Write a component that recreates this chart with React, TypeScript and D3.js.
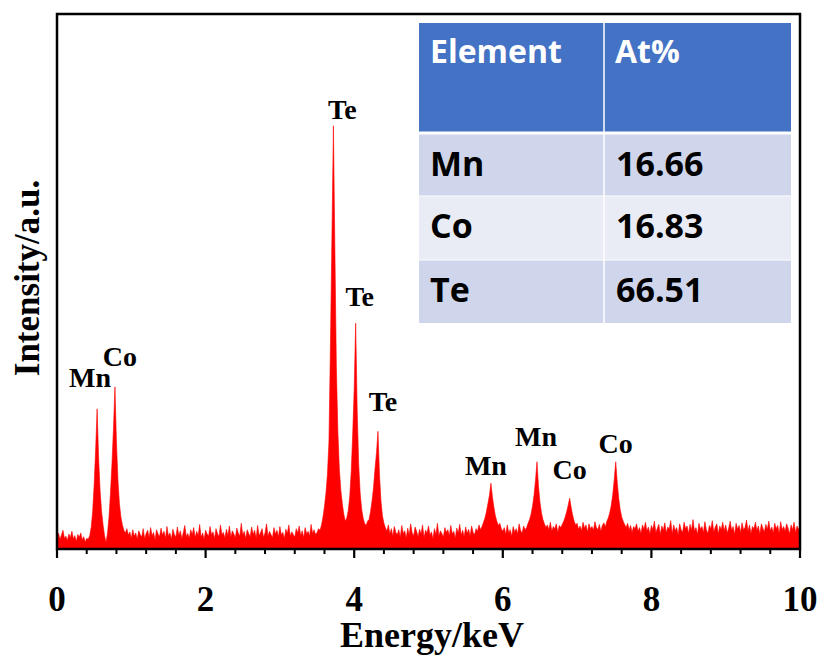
import React from "react";
import * as d3 from "d3";

// EDS spectrum: counts sampled every 0.02 keV from 0 to 10 keV
const ENERGY_STEP = 0.02;
const counts: number[] = [
  22, 30, 18, 26, 35, 20, 24, 16, 28, 21, // 0.00
  33, 19, 25, 14, 27, 22, 30, 17, 23, 13, // 0.20
  20, 18, 25, 40, 70, 120, 185, 262, 170, 110, // 0.40  Mn L
  70, 45, 25, 12, 30, 60, 105, 160, 225, 303, // 0.60  Co L
  200, 130, 85, 60, 45, 35, 30, 38, 26, 32, // 0.80
  20, 36, 24, 30, 18, 34, 27, 22, 38, 19, // 1.00
  29, 35, 21, 40, 25, 31, 17, 36, 28, 23, // 1.20
  39, 26, 33, 20, 42, 24, 30, 18, 37, 27, // 1.40
  22, 41, 25, 34, 19, 31, 44, 23, 29, 20, // 1.60
  36, 27, 40, 21, 33, 25, 46, 22, 30, 18, // 1.80
  35, 28, 24, 42, 26, 32, 19, 38, 29, 23, // 2.00
  45, 27, 31, 20, 37, 25, 43, 22, 34, 28, // 2.20
  21, 39, 30, 24, 48, 26, 33, 19, 36, 29, // 2.40
  23, 41, 27, 35, 20, 44, 25, 31, 38, 22, // 2.60
  30, 47, 24, 33, 27, 21, 40, 28, 35, 23, // 2.80
  42, 26, 31, 19, 37, 29, 45, 24, 32, 27, // 3.00
  22, 38, 30, 43, 25, 34, 21, 40, 28, 33, // 3.20
  24, 46, 29, 36, 27, 31, 38, 35, 45, 60, // 3.40
  80, 105, 140, 200, 380, 580, 791, 560, 340, 220, // 3.60  Te La
  150, 110, 85, 65, 52, 58, 72, 98, 145, 215, // 3.80
  300, 422, 260, 160, 105, 75, 58, 48, 44, 52, // 4.00  Te Lb
  55, 70, 90, 115, 150, 180, 220, 140, 90, 62, // 4.20  Te Lg
  48, 40, 33, 45, 28, 38, 24, 42, 31, 27, // 4.40
  36, 22, 44, 29, 34, 20, 39, 26, 47, 30, // 4.60
  25, 41, 33, 23, 37, 28, 45, 21, 35, 30, // 4.80
  43, 26, 32, 19, 38, 27, 48, 24, 34, 29, // 5.00
  22, 40, 31, 36, 25, 44, 28, 33, 20, 39, // 5.20
  30, 46, 26, 35, 23, 41, 29, 37, 24, 43, // 5.40
  31, 27, 38, 33, 45, 36, 42, 50, 58, 70, // 5.60
  85, 100, 123, 98, 78, 62, 52, 44, 48, 38, // 5.80  Mn Ka
  33, 40, 27, 45, 30, 36, 24, 42, 32, 38, // 6.00
  28, 47, 34, 30, 43, 36, 40, 48, 55, 65, // 6.20
  80, 100, 128, 163, 118, 88, 68, 55, 47, 40, // 6.40  Mn Kb
  45, 36, 50, 33, 42, 38, 47, 31, 44, 40, // 6.60
  46, 52, 60, 70, 82, 95, 78, 63, 52, 45, // 6.80  Co Ka
  48, 37, 43, 34, 50, 39, 45, 32, 47, 38, // 7.00
  42, 35, 51, 40, 36, 46, 33, 44, 49, 41, // 7.20
  52, 58, 68, 82, 102, 130, 163, 125, 95, 74, // 7.40  Co
  60, 52, 46, 40, 48, 36, 44, 31, 42, 38, // 7.60
  47, 33, 40, 29, 45, 37, 50, 34, 41, 28, // 7.80
  44, 36, 52, 31, 39, 46, 27, 43, 35, 49, // 8.00
  30, 41, 37, 53, 28, 45, 34, 40, 26, 47, // 8.20
  36, 31, 50, 38, 43, 29, 46, 35, 55, 33, // 8.40
  40, 27, 48, 37, 42, 31, 51, 36, 29, 44, // 8.60
  38, 53, 32, 41, 47, 28, 43, 36, 50, 34, // 8.80
  45, 30, 39, 52, 35, 42, 27, 48, 37, 44, // 9.00
  31, 49, 36, 40, 54, 33, 45, 29, 42, 38, // 9.20
  50, 35, 43, 28, 47, 39, 32, 46, 37, 52, // 9.40
  34, 41, 30, 48, 38, 44, 29, 51, 36, 42, // 9.60
  33, 47, 39, 28, 45, 36, 50, 31, 43, 37, // 9.80
  40, // 10.00
];

// Peak annotations: element symbol and line energy (keV)
const peakElements = ["Mn", "Co", "Te", "Te", "Te", "Mn", "Mn", "Co", "Co"];
const peakEnergies = [0.54, 0.78, 3.72, 4.02, 4.32, 5.84, 6.46, 6.9, 7.52];

// Composition table
const tableHeader = ["Element", "At%"];
const tableElements = ["Mn", "Co", "Te"];
const tableAtPercent = ["16.66", "16.83", "66.51"];

const xTickValues = [0, 2, 4, 6, 8, 10];
const xMinorStep = 0.4;

const W = 825;
const H = 658;
const M = { left: 57, right: 800, top: 14, bottom: 549 };

const SERIF = "'Liberation Serif', 'Times New Roman', Times, serif";
const SANS = "'Open Sans', 'Noto Sans', Arial, sans-serif";

// label placement relative to each peak apex: [dx, baseline above apex]
const labelLayout: [number, number][] = [
  [-7, 22],
  [5, 21],
  [9, 7],
  [4, 17],
  [5, 20],
  [-5, 8],
  [-1, 16],
  [0, 19],
  [0, 9],
];

export default function App() {
  const x = d3.scaleLinear().domain([0, 10]).range([M.left, M.right]);
  const y = d3.scaleLinear().domain([0, 1000]).range([M.bottom, M.bottom - 535]);

  const area = d3
    .area<number>()
    .x((_, i) => x(i * ENERGY_STEP))
    .y0(y(0))
    .y1((d) => y(d));

  const minorTicks = d3
    .range(0, 10 + 1e-9, xMinorStep)
    .filter((v) => !xTickValues.some((t) => Math.abs(t - v) < 1e-6));

  // table geometry
  const tx0 = 419;
  const tx1 = 791;
  const tcol = 604;
  const rowEdges = [23, 133, 196, 260, 323];
  const rowFills = ["#4472C4", "#CFD5EA", "#E9EBF5", "#CFD5EA"];
  const baselines = [63, 176, 238, 302];

  return (
    <svg
      width={W}
      height={H}
      style={{ position: "absolute", left: 0, top: 0, background: "#fff" }}
    >
      <rect x={0} y={0} width={W} height={H} fill="#fff" />
      <path d={area(counts) ?? ""} fill="#FF0000" stroke="#FF0000" strokeWidth={0.6} />

      {/* peak labels */}
      {peakElements.map((el, i) => {
        const e = peakEnergies[i];
        const v = counts[Math.round(e / ENERGY_STEP)];
        const [dx, dy] = labelLayout[i];
        return (
          <text
            key={i}
            x={x(e) + dx}
            y={y(v) - dy}
            textAnchor="middle"
            fontFamily={SERIF}
            fontWeight="bold"
            fontSize={28}
            fill="#000"
          >
            {el}
          </text>
        );
      })}

      {/* composition table */}
      <g>
        {rowFills.map((c, r) => (
          <rect
            key={r}
            x={tx0}
            y={rowEdges[r]}
            width={tx1 - tx0}
            height={rowEdges[r + 1] - rowEdges[r]}
            fill={c}
          />
        ))}
        <line x1={tx0} x2={tx1} y1={rowEdges[1]} y2={rowEdges[1]} stroke="#fff" strokeWidth={3} />
        {[2, 3].map((r) => (
          <line key={r} x1={tx0} x2={tx1} y1={rowEdges[r]} y2={rowEdges[r]} stroke="#fff" strokeWidth={1.2} />
        ))}
        <line x1={tcol} x2={tcol} y1={rowEdges[0]} y2={rowEdges[4]} stroke="#fff" strokeWidth={1.5} />
        {tableHeader.map((h, c) => (
          <text
            key={h}
            x={c === 0 ? tx0 + 11 : tcol + 11}
            y={baselines[0]}
            fontFamily={SANS}
            fontWeight="bold"
            fontSize={32}
            fill="#fff"
          >
            {h}
          </text>
        ))}
        {tableElements.map((el, r) => (
          <g key={el}>
            <text x={tx0 + 11} y={baselines[r + 1]} fontFamily={SANS} fontWeight="bold" fontSize={34} fill="#000">
              {el}
            </text>
            <text x={tcol + 12} y={baselines[r + 1]} fontFamily={SANS} fontWeight="bold" fontSize={34} fill="#000">
              {tableAtPercent[r]}
            </text>
          </g>
        ))}
      </g>

      {/* frame */}
      <rect
        x={M.left}
        y={M.top}
        width={M.right - M.left}
        height={M.bottom - M.top}
        fill="none"
        stroke="#000"
        strokeWidth={2.5}
      />

      {/* x axis ticks */}
      {xTickValues.map((t) => (
        <g key={t}>
          <line x1={x(t)} x2={x(t)} y1={M.bottom} y2={M.bottom + 9} stroke="#000" strokeWidth={2.2} />
          <text
            x={x(t)}
            y={611}
            textAnchor="middle"
            fontFamily={SERIF}
            fontWeight="bold"
            fontSize={35}
            fill="#000"
          >
            {t}
          </text>
        </g>
      ))}
      {minorTicks.map((t) => (
        <line key={t} x1={x(t)} x2={x(t)} y1={M.bottom} y2={M.bottom + 5} stroke="#000" strokeWidth={2} />
      ))}

      {/* axis titles */}
      <text
        x={432}
        y={647}
        textAnchor="middle"
        fontFamily={SERIF}
        fontWeight="bold"
        fontSize={36}
        fill="#000"
      >
        Energy/keV
      </text>
      <text
        transform={`translate(39, 278) rotate(-90)`}
        textAnchor="middle"
        fontFamily={SERIF}
        fontWeight="bold"
        fontSize={35}
        fill="#000"
      >
        Intensity/a.u.
      </text>
    </svg>
  );
}
